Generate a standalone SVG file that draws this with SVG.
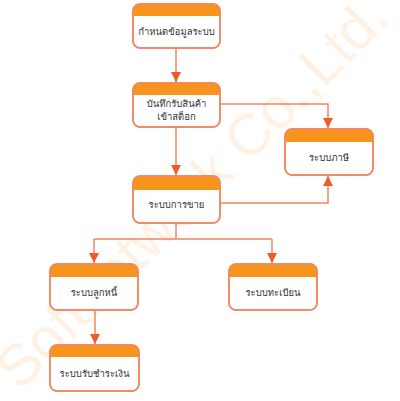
<svg xmlns="http://www.w3.org/2000/svg" width="400" height="401" viewBox="0 0 400 401">
<style>
.box{fill:#fff;stroke:#F4845F;stroke-width:1.5}
.edge{fill:none;stroke:#F4845F;stroke-width:1.5}
.hdr{fill:#F7941D}
.lbl{font-family:"Tahoma","Loma","Garuda","Noto Sans Thai Looped","Noto Sans Thai","Noto Sans","DejaVu Sans",sans-serif;font-size:9.5px;fill:#333;text-anchor:middle}
.ln{fill:none;stroke:#F4845F;stroke-width:1.5}
.wm{font-family:"Liberation Sans",Arial,sans-serif;font-size:58px;fill:#FFF1E3}
</style>
<defs>
<marker id="arr" markerWidth="12" markerHeight="12" refX="10" refY="5" orient="auto" markerUnits="userSpaceOnUse" viewBox="0 0 12 10">
<path d="M0,0 L10,5 L0,10 Z" fill="#F15A24"/>
</marker>
</defs>
<text class="wm" transform="translate(20 392) rotate(-45)">Softnetwork Co.,Ltd.</text>
<g id="connectors">
<path class="ln" d="M176,47 V82" marker-end="url(#arr)"/>
<path class="ln" d="M220,104 H328 V128" marker-end="url(#arr)"/>
<path class="ln" d="M176,127 V175" marker-end="url(#arr)"/>
<path class="ln" d="M220,203 H328 V176" marker-end="url(#arr)"/>
<path class="ln" d="M176,223 V239 M94,239 H272"/>
<path class="ln" d="M94,239 V263" marker-end="url(#arr)"/>
<path class="ln" d="M272,239 V263" marker-end="url(#arr)"/>
<path class="ln" d="M95,310 V344" marker-end="url(#arr)"/>
</g>
<g id="n1">
<rect class="box" x="133" y="4" width="87" height="44" rx="7"/>
<path class="hdr" d="M133,16 V11 a7,7 0 0 1 7,-7 h73 a7,7 0 0 1 7,7 V16 Z"/>
<rect class="edge" x="133" y="4" width="87" height="44" rx="7"/>
<text class="lbl" x="176.5" y="35">กำหนดข้อมูลระบบ</text>
</g>
<g id="n2">
<rect class="box" x="133" y="83" width="87" height="44" rx="7"/>
<path class="hdr" d="M133,95 V90 a7,7 0 0 1 7,-7 h73 a7,7 0 0 1 7,7 V95 Z"/>
<rect class="edge" x="133" y="83" width="87" height="44" rx="7"/>
<text class="lbl" x="176.5" y="107">บันทึกรับสินค้า</text>
<text class="lbl" x="176.5" y="120">เข้าสต็อก</text>
</g>
<g id="n3">
<rect class="box" x="285" y="129" width="88" height="46" rx="7"/>
<path class="hdr" d="M285,142 V136 a7,7 0 0 1 7,-7 h74 a7,7 0 0 1 7,7 V142 Z"/>
<rect class="edge" x="285" y="129" width="88" height="46" rx="7"/>
<text class="lbl" x="329" y="161">ระบบภาษี</text>
</g>
<g id="n4">
<rect class="box" x="133" y="176" width="87" height="47" rx="7"/>
<path class="hdr" d="M133,190 V183 a7,7 0 0 1 7,-7 h73 a7,7 0 0 1 7,7 V190 Z"/>
<rect class="edge" x="133" y="176" width="87" height="47" rx="7"/>
<text class="lbl" x="176.5" y="208">ระบบการขาย</text>
</g>
<g id="n5">
<rect class="box" x="50" y="264" width="88" height="46" rx="7"/>
<path class="hdr" d="M50,277 V271 a7,7 0 0 1 7,-7 h74 a7,7 0 0 1 7,7 V277 Z"/>
<rect class="edge" x="50" y="264" width="88" height="46" rx="7"/>
<text class="lbl" x="94" y="296">ระบบลูกหนี้</text>
</g>
<g id="n6">
<rect class="box" x="229" y="264" width="88" height="46" rx="7"/>
<path class="hdr" d="M229,277 V271 a7,7 0 0 1 7,-7 h74 a7,7 0 0 1 7,7 V277 Z"/>
<rect class="edge" x="229" y="264" width="88" height="46" rx="7"/>
<text class="lbl" x="273" y="296">ระบบทะเบียน</text>
</g>
<g id="n7">
<rect class="box" x="50" y="345" width="89" height="46" rx="7"/>
<path class="hdr" d="M50,357 V352 a7,7 0 0 1 7,-7 h75 a7,7 0 0 1 7,7 V357 Z"/>
<rect class="edge" x="50" y="345" width="89" height="46" rx="7"/>
<text class="lbl" x="94.5" y="377">ระบบรับชำระเงิน</text>
</g>
</svg>
